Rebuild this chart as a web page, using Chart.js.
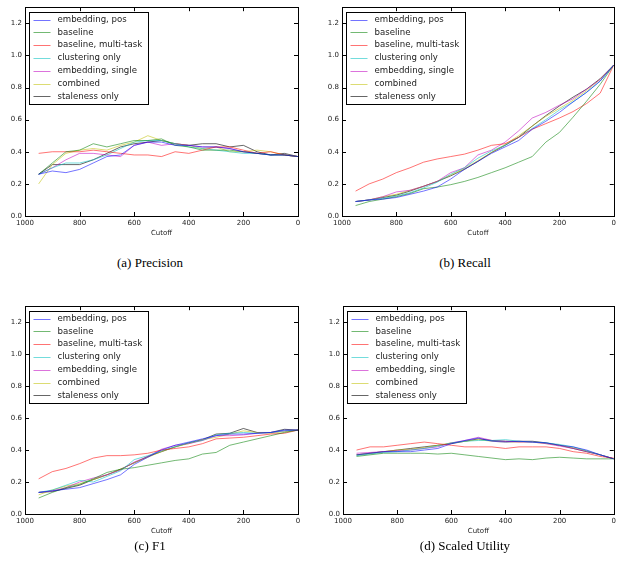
<!DOCTYPE html>
<html>
<head>
<meta charset="utf-8">
<script src="https://cdn.jsdelivr.net/npm/chart.js@4.4.0/dist/chart.umd.min.js"></script>
<style>
  body { margin: 0; background: #fff; width: 619px; height: 581px; position: relative; overflow: hidden; }
  canvas { position: absolute; }
  .cap { position: absolute; font-family: "Liberation Serif", serif; font-size: 13px; color: #000; text-align: center; width: 300px; }
</style>
</head>
<body>
<canvas id="cPrec" width="305" height="245" style="left:0px;top:0px"></canvas>
<canvas id="cRec" width="309" height="245" style="left:310px;top:0px"></canvas>
<canvas id="cF1" width="305" height="244" style="left:0px;top:299px"></canvas>
<canvas id="cUtil" width="309" height="244" style="left:310px;top:299px"></canvas>
<div class="cap" style="left:0px;top:255px">(a) Precision</div>
<div class="cap" style="left:315px;top:255px">(b) Recall</div>
<div class="cap" style="left:0px;top:538px">(c) F1</div>
<div class="cap" style="left:315px;top:538px">(d) Scaled Utility</div>
<script>
// cutoff values (x), same for every panel
const cutoffs = [950, 900, 850, 800, 750, 700, 650, 600, 550, 500, 450, 400, 350, 300, 250, 200, 150, 100, 50, 0];
const seriesNames = ['embedding, pos', 'baseline', 'baseline, multi-task', 'clustering only', 'embedding, single', 'combined', 'staleness only'];
const seriesColors = ['rgba(0,0,255,0.55)', 'rgba(0,128,0,0.55)', 'rgba(255,0,0,0.55)', 'rgba(0,191,191,0.55)', 'rgba(191,0,191,0.55)', 'rgba(191,191,0,0.55)', 'rgba(0,0,0,0.6)'];
const xTicks = [1000, 800, 600, 400, 200, 0];
const yTicks = [0.0, 0.2, 0.4, 0.6, 0.8, 1.0, 1.2];

// (a) Precision
const precEmbPos    = [0.26, 0.28, 0.27, 0.29, 0.33, 0.37, 0.38, 0.44, 0.46, 0.46, 0.44, 0.44, 0.43, 0.43, 0.42, 0.40, 0.39, 0.38, 0.38, 0.37];
const precBaseline  = [0.26, 0.33, 0.40, 0.41, 0.45, 0.43, 0.45, 0.47, 0.47, 0.48, 0.44, 0.43, 0.41, 0.41, 0.41, 0.40, 0.39, 0.38, 0.38, 0.37];
const precMultiTask = [0.39, 0.40, 0.40, 0.40, 0.41, 0.40, 0.39, 0.38, 0.38, 0.37, 0.40, 0.39, 0.41, 0.43, 0.43, 0.41, 0.39, 0.40, 0.38, 0.37];
const precCluster   = [0.26, 0.30, 0.33, 0.33, 0.35, 0.38, 0.42, 0.46, 0.47, 0.47, 0.45, 0.43, 0.42, 0.41, 0.40, 0.39, 0.39, 0.38, 0.38, 0.37];
const precEmbSingle = [0.26, 0.30, 0.35, 0.39, 0.39, 0.38, 0.37, 0.44, 0.46, 0.44, 0.45, 0.44, 0.43, 0.43, 0.42, 0.40, 0.39, 0.38, 0.38, 0.37];
const precCombined  = [0.20, 0.32, 0.39, 0.41, 0.42, 0.41, 0.44, 0.46, 0.50, 0.47, 0.45, 0.44, 0.42, 0.43, 0.40, 0.40, 0.41, 0.40, 0.38, 0.37];
const precStaleness = [0.26, 0.32, 0.32, 0.32, 0.35, 0.39, 0.43, 0.45, 0.46, 0.47, 0.45, 0.44, 0.45, 0.45, 0.43, 0.44, 0.40, 0.38, 0.39, 0.37];

// (b) Recall
const recEmbPos    = [0.09, 0.10, 0.105, 0.115, 0.135, 0.155, 0.18, 0.23, 0.29, 0.34, 0.39, 0.43, 0.47, 0.54, 0.59, 0.645, 0.71, 0.77, 0.84, 0.94];
const recBaseline  = [0.065, 0.09, 0.105, 0.12, 0.14, 0.17, 0.18, 0.195, 0.215, 0.24, 0.27, 0.30, 0.335, 0.37, 0.46, 0.52, 0.615, 0.715, 0.82, 0.94];
const recMultiTask = [0.155, 0.20, 0.23, 0.27, 0.30, 0.335, 0.355, 0.37, 0.385, 0.41, 0.44, 0.45, 0.49, 0.54, 0.575, 0.61, 0.65, 0.70, 0.765, 0.94];
const recCluster   = [0.09, 0.10, 0.11, 0.125, 0.145, 0.175, 0.21, 0.26, 0.30, 0.36, 0.405, 0.44, 0.49, 0.545, 0.60, 0.66, 0.71, 0.77, 0.84, 0.94];
const recEmbSingle = [0.09, 0.10, 0.12, 0.15, 0.16, 0.185, 0.215, 0.27, 0.30, 0.38, 0.41, 0.46, 0.53, 0.61, 0.645, 0.69, 0.73, 0.79, 0.85, 0.94];
const recCombined  = [0.09, 0.10, 0.12, 0.135, 0.16, 0.185, 0.215, 0.255, 0.295, 0.345, 0.395, 0.445, 0.50, 0.56, 0.62, 0.67, 0.72, 0.78, 0.85, 0.94];
const recStaleness = [0.09, 0.10, 0.115, 0.13, 0.155, 0.185, 0.215, 0.25, 0.29, 0.34, 0.395, 0.44, 0.49, 0.56, 0.625, 0.685, 0.74, 0.79, 0.855, 0.94];

// (c) F1
const f1EmbPos    = [0.135, 0.145, 0.155, 0.165, 0.19, 0.215, 0.245, 0.31, 0.355, 0.40, 0.43, 0.45, 0.47, 0.49, 0.50, 0.50, 0.505, 0.51, 0.525, 0.525];
const f1Baseline  = [0.10, 0.135, 0.165, 0.185, 0.22, 0.26, 0.28, 0.29, 0.305, 0.32, 0.335, 0.345, 0.375, 0.385, 0.43, 0.45, 0.47, 0.49, 0.51, 0.525];
const f1MultiTask = [0.22, 0.265, 0.285, 0.315, 0.35, 0.365, 0.365, 0.37, 0.38, 0.40, 0.41, 0.42, 0.44, 0.47, 0.475, 0.48, 0.49, 0.50, 0.505, 0.525];
const f1Cluster   = [0.135, 0.15, 0.18, 0.21, 0.20, 0.235, 0.27, 0.34, 0.365, 0.395, 0.42, 0.445, 0.46, 0.495, 0.505, 0.51, 0.505, 0.51, 0.52, 0.525];
const f1EmbSingle = [0.135, 0.145, 0.165, 0.20, 0.225, 0.245, 0.275, 0.325, 0.36, 0.405, 0.43, 0.44, 0.46, 0.49, 0.49, 0.495, 0.505, 0.51, 0.52, 0.525];
const f1Combined  = [0.12, 0.15, 0.175, 0.19, 0.215, 0.245, 0.28, 0.32, 0.355, 0.39, 0.42, 0.44, 0.465, 0.48, 0.50, 0.52, 0.51, 0.505, 0.515, 0.525];
const f1Staleness = [0.135, 0.14, 0.16, 0.18, 0.215, 0.245, 0.28, 0.32, 0.36, 0.39, 0.42, 0.445, 0.465, 0.50, 0.505, 0.535, 0.51, 0.51, 0.53, 0.525];

// (d) Scaled Utility
const utilEmbPos    = [0.37, 0.38, 0.39, 0.39, 0.39, 0.40, 0.41, 0.44, 0.46, 0.475, 0.455, 0.45, 0.455, 0.45, 0.445, 0.43, 0.42, 0.40, 0.37, 0.345];
const utilBaseline  = [0.36, 0.37, 0.38, 0.38, 0.38, 0.38, 0.375, 0.38, 0.37, 0.36, 0.35, 0.34, 0.345, 0.34, 0.35, 0.355, 0.35, 0.345, 0.345, 0.345];
const utilMultiTask = [0.40, 0.42, 0.42, 0.43, 0.44, 0.45, 0.44, 0.43, 0.42, 0.42, 0.42, 0.41, 0.42, 0.42, 0.42, 0.41, 0.39, 0.38, 0.36, 0.35];
const utilCluster   = [0.365, 0.375, 0.385, 0.39, 0.40, 0.41, 0.425, 0.445, 0.455, 0.46, 0.46, 0.465, 0.455, 0.45, 0.445, 0.435, 0.42, 0.395, 0.37, 0.345];
const utilEmbSingle = [0.38, 0.385, 0.39, 0.395, 0.40, 0.41, 0.42, 0.445, 0.46, 0.48, 0.46, 0.455, 0.45, 0.45, 0.44, 0.425, 0.41, 0.39, 0.37, 0.345];
const utilCombined  = [0.37, 0.38, 0.39, 0.40, 0.405, 0.415, 0.43, 0.445, 0.455, 0.465, 0.455, 0.45, 0.45, 0.45, 0.44, 0.43, 0.415, 0.395, 0.37, 0.345];
const utilStaleness = [0.37, 0.38, 0.39, 0.40, 0.41, 0.42, 0.43, 0.44, 0.455, 0.47, 0.46, 0.455, 0.455, 0.455, 0.445, 0.43, 0.41, 0.39, 0.37, 0.345];

const tickFont = { family: 'DejaVu Sans', size: 7 };
const textColor = '#222';

// box round the plot, inward ticks on all four sides, legend in the top left corner
const framePlugin = {
  id: 'frame',
  afterDraw(chart) {
    const ctx = chart.ctx;
    const a = chart.chartArea;
    const xs = chart.scales.x, ys = chart.scales.y;
    ctx.save();
    ctx.strokeStyle = '#000';
    ctx.lineWidth = 1;
    ctx.strokeRect(Math.round(a.left) + 0.5, Math.round(a.top) + 0.5, Math.round(a.right - a.left), Math.round(a.bottom - a.top));
    ctx.beginPath();
    xTicks.forEach(v => {
      const px = Math.round(xs.getPixelForValue(v)) + 0.5;
      ctx.moveTo(px, a.bottom); ctx.lineTo(px, a.bottom - 4);
      ctx.moveTo(px, a.top); ctx.lineTo(px, a.top + 4);
    });
    yTicks.forEach(v => {
      const py = Math.round(ys.getPixelForValue(v)) + 0.5;
      ctx.moveTo(a.left, py); ctx.lineTo(a.left + 4, py);
      ctx.moveTo(a.right, py); ctx.lineTo(a.right - 4, py);
    });
    ctx.stroke();

    // legend
    const bx = Math.round(a.left) + 4.5, by = Math.round(a.top) + 5.5;
    const bw = 119, bh = 92;
    ctx.fillStyle = '#fff';
    ctx.fillRect(bx, by, bw, bh);
    ctx.strokeStyle = '#000';
    ctx.strokeRect(bx, by, bw, bh);
    ctx.font = '8.6px "DejaVu Sans"';
    ctx.textBaseline = 'middle';
    chart.data.datasets.forEach((ds, i) => {
      const y = by + 7 + i * 12.8;
      ctx.strokeStyle = ds.borderColor;
      ctx.beginPath();
      ctx.moveTo(bx + 4, Math.round(y) + 0.5);
      ctx.lineTo(bx + 21, Math.round(y) + 0.5);
      ctx.stroke();
      ctx.fillStyle = textColor;
      ctx.fillText(ds.label, bx + 28, y);
    });
    ctx.restore();
  }
};

function makeChart(id, series, yWidth, rightPad) {
  const datasets = series.map((vals, i) => ({
    label: seriesNames[i],
    data: cutoffs.map((c, j) => ({ x: c, y: vals[j] })),
    borderColor: seriesColors[i],
    borderWidth: 1,
    pointRadius: 0,
    tension: 0,
    fill: false
  }));
  return new Chart(document.getElementById(id), {
    type: 'line',
    data: { datasets },
    options: {
      responsive: false,
      animation: false,
      layout: { padding: { top: 7, right: rightPad, left: 0, bottom: 0 } },
      plugins: { legend: { display: false }, tooltip: { enabled: false } },
      scales: {
        x: {
          type: 'linear',
          reverse: true,
          min: 0,
          max: 1000,
          ticks: { stepSize: 200, font: tickFont, color: textColor, padding: 3, maxRotation: 0, callback: v => String(v) },
          grid: { display: false, drawTicks: false },
          border: { display: false },
          title: { display: true, text: 'Cutoff', font: tickFont, color: textColor, padding: { top: 1, bottom: 8 } },
          afterFit: s => { s.height = 29; }
        },
        y: {
          min: 0,
          max: 1.3,
          ticks: { stepSize: 0.2, includeBounds: false, font: tickFont, color: textColor, padding: 3, callback: v => v.toFixed(1) },
          grid: { display: false, drawTicks: false },
          border: { display: false },
          afterFit: s => { s.width = yWidth; }
        }
      }
    },
    plugins: [framePlugin]
  });
}

makeChart('cPrec', [precEmbPos, precBaseline, precMultiTask, precCluster, precEmbSingle, precCombined, precStaleness], 25, 7);
makeChart('cRec', [recEmbPos, recBaseline, recMultiTask, recCluster, recEmbSingle, recCombined, recStaleness], 32, 3);
makeChart('cF1', [f1EmbPos, f1Baseline, f1MultiTask, f1Cluster, f1EmbSingle, f1Combined, f1Staleness], 25, 7);
makeChart('cUtil', [utilEmbPos, utilBaseline, utilMultiTask, utilCluster, utilEmbSingle, utilCombined, utilStaleness], 33, 3);
</script>
</body>
</html>
